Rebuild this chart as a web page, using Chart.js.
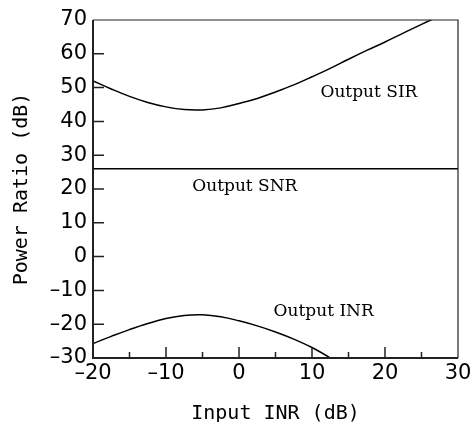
<!DOCTYPE html>
<html>
<head>
<meta charset="utf-8">
<script src="https://cdn.jsdelivr.net/npm/chart.js@4"></script>
<style>
  html, body { margin: 0; padding: 0; background: #fff; }
  #wrap { width: 472px; height: 422px; }
</style>
</head>
<body>
<div id="wrap"><canvas id="chart"></canvas></div>
<script>
// values
const inputInr = [-20, -17.5, -15, -12.5, -10, -7.5, -5, -2.5, 0, 2.5, 5, 7.5, 10, 12.5, 15, 17.5, 20, 22.5, 25, 27.5, 30];
const outputSir = [52, 49.6, 47.4, 45.6, 44.3, 43.5, 43.4, 44.0, 45.3, 46.8, 48.7, 50.8, 53.2, 55.7, 58.4, 61.0, 63.5, 66.1, 68.7, 71.2, 73.6];
const outputSnr = [26, 26, 26, 26, 26, 26, 26, 26, 26, 26, 26, 26, 26, 26, 26, 26, 26, 26, 26, 26, 26];
const outputInr = [-25.7, -23.6, -21.6, -19.8, -18.3, -17.4, -17.2, -17.8, -19.0, -20.5, -22.3, -24.4, -26.9, -30, -33.5, null, null, null, null, null, null];
const yTicks = [-30, -20, -10, 0, 10, 20, 30, 40, 50, 60, 70];
const xTicks = [-20, -10, 0, 10, 20, 30];
const curveLabels = [
  { text: 'Output SIR', x: 17.8, y: 48.6 },
  { text: 'Output SNR', x: 0.8, y: 20.6 },
  { text: 'Output INR', x: 11.6, y: -16.2 }
];

const toPoints = (ys) => inputInr.map((x, i) => ({ x, y: ys[i] }));
const fmt = (v) => String(v).replace('-', '\u2013');

const frame = {
  id: 'frame',
  afterDatasetsDraw(chart) {
    const { ctx, chartArea: a, scales: { x, y } } = chart;
    ctx.save();
    ctx.strokeStyle = '#222';
    // top and right borders, thin
    ctx.lineWidth = 1.2;
    ctx.beginPath();
    ctx.moveTo(a.left, a.top); ctx.lineTo(a.right, a.top); ctx.lineTo(a.right, a.bottom);
    ctx.stroke();
    // left and bottom axes, heavier
    ctx.lineWidth = 2;
    ctx.beginPath();
    ctx.moveTo(a.left, a.top); ctx.lineTo(a.left, a.bottom); ctx.lineTo(a.right, a.bottom);
    ctx.stroke();
    // inward ticks
    ctx.lineWidth = 1.5;
    ctx.beginPath();
    for (let v = -15; v < 30; v += 5) {
      const px = x.getPixelForValue(v);
      const len = v % 10 === 0 ? 11 : 6;
      ctx.moveTo(px, a.bottom); ctx.lineTo(px, a.bottom - len);
    }
    yTicks.slice(1, -1).forEach(v => {
      const py = y.getPixelForValue(v);
      ctx.moveTo(a.left, py); ctx.lineTo(a.left + 11, py);
    });
    ctx.stroke();
    // curve labels
    ctx.fillStyle = '#000';
    ctx.font = '17px "DejaVu Serif"';
    ctx.textAlign = 'center';
    ctx.textBaseline = 'middle';
    curveLabels.forEach(l => ctx.fillText(l.text, x.getPixelForValue(l.x), y.getPixelForValue(l.y)));
    ctx.restore();
  }
};

const line = (data) => ({
  data: toPoints(data),
  borderColor: '#000',
  borderWidth: 1.5,
  pointRadius: 0,
  tension: 0.4,
  spanGaps: false
});

new Chart(document.getElementById('chart'), {
  type: 'line',
  data: { datasets: [line(outputSir), line(outputSnr), line(outputInr)] },
  options: {
    responsive: true,
    maintainAspectRatio: false,
    animation: false,
    layout: { padding: { top: 20, right: 14, left: 6, bottom: 0 } },
    plugins: { legend: { display: false }, tooltip: { enabled: false } },
    scales: {
      x: {
        type: 'linear', min: -20, max: 30,
        afterBuildTicks: (s) => { s.ticks = xTicks.map(v => ({ value: v })); },
        afterFit: (s) => { s.height = 64; s.paddingRight = 0; s.paddingLeft = 0; },
        grid: { display: false, drawTicks: false },
        border: { display: false },
        ticks: { color: '#000', padding: 3, maxRotation: 0, callback: fmt, font: { family: 'DejaVu Sans', size: 21 } },
        title: { display: true, text: 'Input INR (dB)', color: '#000', padding: { top: 0, bottom: -4 }, font: { family: 'DejaVu Sans Mono', size: 20 } }
      },
      y: {
        min: -30, max: 70,
        afterBuildTicks: (s) => { s.ticks = yTicks.map(v => ({ value: v })); },
        afterFit: (s) => { s.width = 87; },
        grid: { display: false, drawTicks: false },
        border: { display: false },
        ticks: { color: '#000', padding: 6, callback: fmt, font: { family: 'DejaVu Sans', size: 21 } },
        title: { display: true, text: 'Power Ratio (dB)', color: '#000', padding: { bottom: 7 }, font: { family: 'DejaVu Sans Mono', size: 20 } }
      }
    }
  },
  plugins: [frame]
});
</script>
</body>
</html>
